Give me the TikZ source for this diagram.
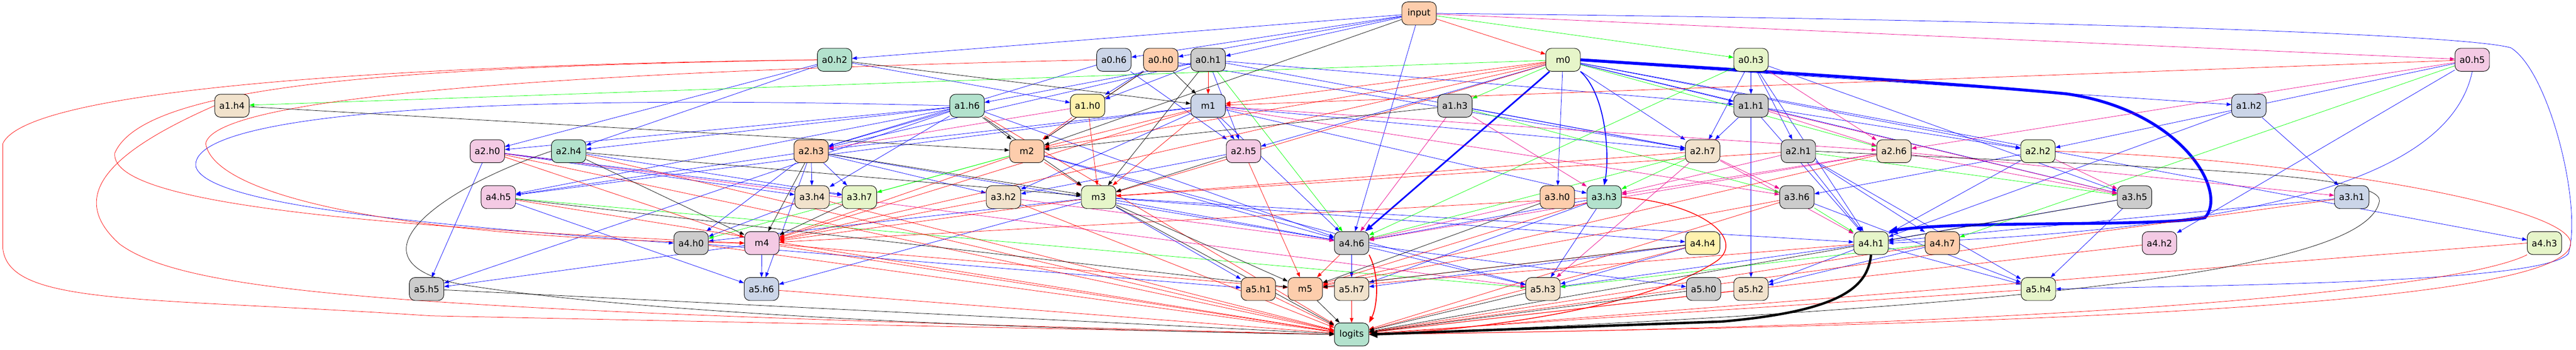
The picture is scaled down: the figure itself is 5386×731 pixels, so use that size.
\documentclass[tikz,border=0pt]{standalone}
\usepackage{fontspec}
\setsansfont{DejaVu Sans}
\usetikzlibrary{arrows.meta}
\definecolor{pmint}{HTML}{B3E2CD}
\definecolor{ppeach}{HTML}{FDCDAC}
\definecolor{pblue}{HTML}{CBD5E8}
\definecolor{ppink}{HTML}{F4CAE4}
\definecolor{pgreen}{HTML}{E6F5C9}
\definecolor{pyellow}{HTML}{FFF2AE}
\definecolor{pbeige}{HTML}{F1E2CC}
\definecolor{pgray}{HTML}{CCCCCC}
\pgfdeclarelayer{edges}
\pgfsetlayers{edges,main}
\begin{document}
\begin{tikzpicture}[x=0.75pt,y=-0.75pt,font=\sffamily\fontsize{14}{16}\selectfont,
    box/.style={draw,rounded corners=9pt,minimum width=54pt,minimum height=36pt,inner sep=0pt,line width=0.75pt},
    tip/.style={-{Triangle[length=7.5pt,width=5.5pt]}},
    qe/.style={tip,blue,line width=0.6pt},
    ke/.style={tip,green,line width=0.6pt},
    ve/.style={tip,magenta,line width=0.6pt},
    re/.style={tip,red,line width=0.6pt},
    oe/.style={tip,black,line width=0.6pt}]
    \useasboundingbox (0,0) rectangle (5386,731);

    \node[box,fill=ppeach] (inp) at (2967,28){input};

    \node[box,fill=pmint] (a0h2) at (1745,125){a0.h2};
    \node[box,fill=pblue] (a0h6) at (2329,125){a0.h6};
    \node[box,fill=ppeach] (a0h0) at (2427,125){a0.h0};
    \node[box,fill=pgray] (a0h1) at (2526,125){a0.h1};
    \node[box,fill=pgreen] (m0) at (3268,125){m0};
    \node[box,fill=pgreen] (a0h3) at (3661,125){a0.h3};
    \node[box,fill=ppink] (a0h5) at (5169,125){a0.h5};

    \node[box,fill=pbeige] (a1h4) at (485,221){a1.h4};
    \node[box,fill=pmint] (a1h6) at (2022,221){a1.h6};
    \node[box,fill=pyellow] (a1h0) at (2274,221){a1.h0};
    \node[box,fill=pblue] (m1) at (2526,221){m1};
    \node[box,fill=pgray] (a1h3) at (3042,221){a1.h3};
    \node[box,fill=pgray] (a1h1) at (3661,221){a1.h1};
    \node[box,fill=pblue] (a1h2) at (4702,221){a1.h2};

    \node[box,fill=ppink] (a2h0) at (1019,316){a2.h0};
    \node[box,fill=pmint] (a2h4) at (1189,316){a2.h4};
    \node[box,fill=ppeach] (a2h3) at (1696,316){a2.h3};
    \node[box,fill=ppeach] (m2) at (2147,316){m2};
    \node[box,fill=ppink] (a2h5) at (2600,316){a2.h5};
    \node[box,fill=pbeige] (a2h7) at (3560,316){a2.h7};
    \node[box,fill=pgray] (a2h1) at (3760,316){a2.h1};
    \node[box,fill=pbeige] (a2h6) at (3960,316){a2.h6};
    \node[box,fill=pgreen] (a2h2) at (4261,316){a2.h2};

    \node[box,fill=ppink] (a4h5) at (1042,412){a4.h5};
    \node[box,fill=pbeige] (a3h4) at (1698,412){a3.h4};
    \node[box,fill=pgreen] (a3h7) at (1797,412){a3.h7};
    \node[box,fill=pbeige] (a3h2) at (2098,412){a3.h2};
    \node[box,fill=pgreen] (m3) at (2297,412){m3};
    \node[box,fill=ppeach] (a3h0) at (3256,412){a3.h0};
    \node[box,fill=pmint] (a3h3) at (3354,412){a3.h3};
    \node[box,fill=pgray] (a3h6) at (3757,412){a3.h6};
    \node[box,fill=pgray] (a3h5) at (4463,412){a3.h5};
    \node[box,fill=pblue] (a3h1) at (4917,412){a3.h1};

    \node[box,fill=pgray] (a4h0) at (1445,508){a4.h0};
    \node[box,fill=ppink] (m4) at (1593,508){m4};
    \node[box,fill=pgray] (a4h6) at (2826,508){a4.h6};
    \node[box,fill=pyellow] (a4h4) at (3560,508){a4.h4};
    \node[box,fill=pgreen] (a4h1) at (3912,508){a4.h1};
    \node[box,fill=ppeach] (a4h7) at (4061,508){a4.h7};
    \node[box,fill=ppink] (a4h2) at (4515,508){a4.h2};
    \node[box,fill=pgreen] (a4h3) at (5320,508){a4.h3};

    \node[box,fill=pgray] (a5h5) at (892,604){a5.h5};
    \node[box,fill=pblue] (a5h6) at (1592,604){a5.h6};
    \node[box,fill=ppeach] (a5h1) at (2631,604){a5.h1};
    \node[box,fill=ppeach] (m5) at (2729,604){m5};
    \node[box,fill=pbeige] (a5h7) at (2826,604){a5.h7};
    \node[box,fill=pbeige] (a5h3) at (3226,604){a5.h3};
    \node[box,fill=pgray] (a5h0) at (3562,604){a5.h0};
    \node[box,fill=pbeige] (a5h2) at (3661,604){a5.h2};
    \node[box,fill=pgreen] (a5h4) at (4262,604){a5.h4};

    \node[box,fill=pmint] (logits) at (2826,699){logits};

    \begin{pgfonlayer}{edges}
    \fill[white] (0,0) rectangle (5386,731);

    \draw[qe] (inp) -- (a0h2);
    \draw[qe] (inp) -- (a0h6);
    \draw[qe] (inp) -- (a0h0);
    \draw[qe] (inp) -- (a0h1);
    \draw[qe] (inp) -- (a4h6);
    \draw[qe] (a0h1) -- (a1h6);
    \draw[qe] (a0h0) -- (a1h0);
    \draw[qe] (a0h1) -- (a1h0);
    \draw[qe] (a0h2) -- (a1h0);
    \draw[qe] (a0h3) -- (a1h1);
    \draw[qe] (m0) -- (a1h1);
    \draw[qe] (a0h1) -- (a1h1);
    \draw[qe] (m0) -- (a1h2);
    \draw[qe] (a0h2) -- (a2h0);
    \draw[qe] (a1h6) -- (a2h0);
    \draw[qe] (a0h2) -- (a2h4);
    \draw[qe] (a1h6) -- (a2h4);
    \draw[qe] (a1h6) -- (a2h3);
    \draw[qe] (a0h1) -- (a2h3);
    \draw[qe] (m1) -- (a2h3);
    \draw[qe] (a0h6) -- (a2h3);
    \draw[qe] (a0h6) -- (a2h5);
    \draw[qe] (m1) -- (a2h5);
    \draw[qe] (a0h1) -- (a2h5);
    \draw[qe] (m0) -- (a2h5);
    \draw[qe] (m0) -- (a2h7);
    \draw[qe] (a0h1) -- (a2h7);
    \draw[qe] (a0h0) -- (a2h7);
    \draw[qe] (a0h3) -- (a2h7);
    \draw[qe] (a1h1) -- (a2h7);
    \draw[qe] (m1) -- (a2h7);
    \draw[qe] (a1h3) -- (a2h7);
    \draw[qe] (a0h3) -- (a2h1);
    \draw[qe] (a1h1) -- (a2h2);
    \draw[qe] (m0) -- (a2h2);
    \draw[qe] (a0h5) -- (a2h2);
    \draw[qe] (a2h3) -- (a4h5);
    \draw[qe] (a1h6) -- (a4h5);
    \draw[qe] (m1) -- (a4h5);
    \draw[qe] (a2h3) -- (a3h4);
    \draw[qe] (a1h6) -- (a3h4);
    \draw[qe] (a2h0) -- (a3h4);
    \draw[qe] (a2h3) -- (a3h7);
    \draw[qe] (a2h4) -- (a3h7);
    \draw[qe] (a2h0) -- (a3h7);
    \draw[qe] (a2h3) -- (a3h2);
    \draw[qe] (m1) -- (a3h2);
    \draw[qe] (a2h5) -- (a3h2);
    \draw[qe] (m0) -- (a3h0);
    \draw[qe] (m1) -- (a3h3);
    \draw[qe] (a2h2) -- (a3h6);
    \draw[qe] (m0) -- (a3h5);
    \draw[qe] (a0h3) -- (a3h5);
    \draw[qe] (a1h2) -- (a3h1);
    \draw[qe] (a2h3) -- (a4h0);
    \draw[qe] (a3h4) -- (a4h0);
    \draw[qe] (m3) -- (a4h0);
    \draw[qe] (a1h6) -- (a4h6);
    \draw[qe] (a3h3) -- (a4h6);
    \draw[qe] (m3) -- (a4h6);
    \draw[qe] (m2) -- (a4h6);
    \draw[qe] (m1) -- (a4h6);
    \draw[qe] (a2h3) -- (a4h6);
    \draw[qe] (m3) -- (a4h4);
    \draw[qe] (a1h1) -- (a4h1);
    \draw[qe] (a2h1) -- (a4h1);
    \draw[qe] (a0h3) -- (a4h1);
    \draw[qe] (m3) -- (a4h1);
    \draw[qe] (a3h5) -- (a4h1);
    \draw[qe] (a3h1) -- (a4h1);
    \draw[qe] (a1h2) -- (a4h1);
    \draw[qe] (a2h2) -- (a4h1);
    \draw[qe] (a2h1) -- (a4h7);
    \draw[qe] (a0h5) -- (a4h2);
    \draw[qe] (m0) -- (a4h3);
    \draw[qe] (a1h6) -- (a5h5);
    \draw[qe] (a2h0) -- (a5h5);
    \draw[qe] (m4) -- (a5h5);
    \draw[qe] (a2h3) -- (a5h6);
    \draw[qe] (m4) -- (a5h6);
    \draw[qe] (a4h5) -- (a5h6);
    \draw[qe] (m3) -- (a5h6);
    \draw[qe] (m3) -- (a5h1);
    \draw[qe] (a4h0) -- (a5h1);
    \draw[qe] (a4h6) -- (a5h7);
    \draw[qe] (a3h3) -- (a5h7);
    \draw[qe] (a4h4) -- (a5h7);
    \draw[qe] (m2) -- (a5h3);
    \draw[qe] (a4h6) -- (a5h3);
    \draw[qe] (a3h3) -- (a5h3);
    \draw[qe] (a4h4) -- (a5h3);
    \draw[qe] (a4h1) -- (a5h3);
    \draw[qe] (a4h6) -- (a5h0);
    \draw[qe] (a4h1) -- (a5h2);
    \draw[qe] (a4h7) -- (a5h2);
    \draw[qe] (a1h1) -- (a5h2);
    \draw[qe] (a4h1) -- (a5h4);
    \draw[qe] (a2h1) -- (a5h4);
    \draw[qe] (a3h6) -- (a5h4);
    \draw[qe] (a3h5) -- (a5h4);
    \draw[qe] (inp.east) .. controls (4200,40) and (5150,70) .. (5250,100) .. controls (5330,150) and (5400,430) .. (5370,530) .. controls (5320,590) and (4700,595) .. (a5h4.east);
    \draw[qe] (a1h6.west) .. controls (800,190) and (390,260) .. (410,350) .. controls (440,430) and (900,470) .. (a4h0.west);
    \draw[qe] (a0h5.south) .. controls (5120,380) and (4700,480) .. (a4h1.east);
    \draw[qe,line width=2.5pt,-{Triangle[length=12pt,width=9pt]}] (m0) -- (a4h6);
    \draw[qe,line width=1.5pt,-{Triangle[length=10pt,width=7pt]}] (m0.south east) .. controls (3360,200) and (3365,330) .. (a3h3.north);
    \draw[qe,line width=4.5pt,-{Triangle[length=14pt,width=12pt]}] (m0.east) .. controls (3700,150) and (4100,175) .. (4320,196) .. controls (4560,230) and (4660,400) .. (4610,455) .. controls (4500,475) and (4100,460) .. (a4h1.north east);

    \draw[ke] (inp) -- (a0h3);
    \draw[ke] (m0) -- (a1h4);
    \draw[ke] (m0) -- (a1h3);
    \draw[ke] (m0) -- (a2h6);
    \draw[ke] (m2) -- (a3h7);
    \draw[ke] (a2h7) -- (a3h3);
    \draw[ke] (a2h1) -- (a3h5);
    \draw[ke] (a1h3) -- (a3h6);
    \draw[ke] (m2) -- (a4h0);
    \draw[ke] (a0h1) -- (a4h6);
    \draw[ke] (a2h7) -- (a4h6);
    \draw[ke] (a0h3) -- (a4h6);
    \draw[ke] (a3h6) -- (a4h1);
    \draw[ke] (a0h5) -- (a4h7);
    \draw[ke] (a4h5) -- (a5h3);
    \draw[ke] (a4h7) -- (a5h3);

    \draw[ve] (inp) -- (a0h5);
    \draw[ve] (a1h0) -- (a2h3);
    \draw[ve] (a0h3) -- (a2h6);
    \draw[ve] (a1h1) -- (a2h6);
    \draw[ve] (m1) -- (a2h6);
    \draw[ve] (a0h5) -- (a2h6);
    \draw[ve] (a1h3) -- (a3h3);
    \draw[ve] (a2h6) -- (a3h3);
    \draw[ve] (a2h1) -- (a3h3);
    \draw[ve] (a2h7) -- (a3h6);
    \draw[ve] (m1) -- (a3h6);
    \draw[ve] (a1h1) -- (a3h5);
    \draw[ve] (a2h6) -- (a3h5);
    \draw[ve] (a2h2) -- (a3h5);
    \draw[ve] (a2h6) -- (a3h1);
    \draw[ve] (a1h3) -- (a4h6);
    \draw[ve] (a3h0) -- (a4h6);
    \draw[ve] (a2h6) -- (a4h6);
    \draw[ve] (a3h2) -- (a4h6);
    \draw[ve] (a2h7) -- (a4h1);
    \draw[ve] (a2h7) -- (a5h3);
    \draw[ve] (a2h0) -- (a5h3);

    \draw[re] (inp) -- (m0);
    \draw[re] (a0h1) -- (m1);
    \draw[re] (m0) -- (m1);
    \draw[re] (a0h5) -- (m1);
    \draw[re] (a0h0) -- (m2);
    \draw[re] (a1h0) -- (m2);
    \draw[re] (m1) -- (m2);
    \draw[re] (m0) -- (m2);
    \draw[re] (m2) -- (m3);
    \draw[re] (a1h0) -- (m3);
    \draw[re] (m1) -- (m3);
    \draw[re] (m0) -- (m3);
    \draw[re] (a2h7) -- (m3);
    \draw[re] (a2h1) -- (m3);
    \draw[re] (a2h0) -- (m4);
    \draw[re] (m3) -- (m4);
    \draw[re] (m2) -- (m4);
    \draw[re] (m1) -- (m4);
    \draw[re] (m0) -- (m4);
    \draw[re] (a3h2) -- (m4);
    \draw[re] (a3h3) -- (m4);
    \draw[re] (a4h6) -- (m5);
    \draw[re] (a3h3) -- (m5);
    \draw[re] (a4h4) -- (m5);
    \draw[re] (a3h6) -- (m5);
    \draw[re] (a4h1) -- (m5);
    \draw[re] (m4) -- (m5);
    \draw[re] (a2h6) -- (m5);
    \draw[re] (a2h5) -- (m5);
    \draw[re] (a2h0) -- (logits);
    \draw[re] (a2h4) -- (logits);
    \draw[re] (a4h5) -- (logits);
    \draw[re] (a4h0) -- (logits);
    \draw[re] (a5h6) -- (logits);
    \draw[re] (m4) -- (logits);
    \draw[re] (a5h1) -- (logits);
    \draw[re] (a5h7) -- (logits);
    \draw[re] (a4h4) -- (logits);
    \draw[re] (a4h7) -- (logits);
    \draw[re] (a3h6) -- (logits);
    \draw[re] (a4h2) -- (logits);
    \draw[re] (a3h1) -- (logits);
    \draw[re] (a5h4) -- (logits);
    \draw[re] (a5h2) -- (logits);
    \draw[re] (a1h6) -- (logits);
    \draw[re] (a3h2) -- (logits);
    \draw[re] (a3h4) -- (logits);
    \draw[re] (a0h2.west) .. controls (900,135) and (60,180) .. (6,300) -- (6,520) .. controls (20,640) and (300,620) .. (900,660) -- (logits.west);
    \draw[re] (a0h2.west) .. controls (800,140) and (300,180) .. (240,320) .. controls (230,420) and (700,470) .. (m4.west);
    \draw[re] (a0h6.west) .. controls (1200,150) and (450,200) .. (430,300) .. controls (450,420) and (900,500) .. (m4.west);
    \draw[re] (a1h4.west) .. controls (200,330) and (150,420) .. (250,510) .. controls (400,620) and (900,650) .. (logits.west);
    \draw[re] (a2h2.east) .. controls (4800,330) and (5380,430) .. (5375,510) .. controls (5360,640) and (4200,680) .. (logits.east);
    \draw[re] (a4h3.south west) .. controls (5150,600) and (4400,680) .. (logits.east);
    \draw[re] (a4h3.west) -- (logits.east);
    \draw[re,line width=1.5pt,-{Triangle[length=10pt,width=7pt]}] (a4h6.south east) .. controls (2885,575) and (2880,640) .. (logits.north east);
    \draw[re,line width=1.2pt,-{Triangle[length=9pt,width=6.5pt]}] (a3h3.east) .. controls (3560,425) and (3650,500) .. (3590,545) .. controls (3450,640) and (3100,690) .. (logits.east);

    \draw[oe] (inp) -- (m2);
    \draw[oe] (a0h0) -- (m1);
    \draw[oe] (a0h2) -- (m1);
    \draw[oe] (a1h6) -- (m2);
    \draw[oe] (a0h0) -- (m2);
    \draw[oe] (a1h4) -- (m2);
    \draw[oe] (a1h3) -- (m2);
    \draw[oe] (a1h6) -- (m3);
    \draw[oe] (a2h4) -- (m3);
    \draw[oe] (a0h1) -- (m3);
    \draw[oe] (a2h5) -- (m3);
    \draw[oe] (a2h3) -- (m3);
    \draw[oe] (a2h4) -- (m4);
    \draw[oe] (a2h3) -- (m4);
    \draw[oe] (a3h7) -- (m4);
    \draw[oe] (m3) -- (m5);
    \draw[oe] (a3h0) -- (m5);
    \draw[oe] (a4h4) -- (m5);
    \draw[oe] (a4h5) -- (m5);
    \draw[oe] (m5) -- (logits);
    \draw[oe] (a5h3) -- (logits);
    \draw[oe] (a5h0) -- (logits);
    \draw[oe] (a3h5) -- (logits);
    \draw[oe] (a5h5) -- (logits);
    \draw[oe] (m3) -- (logits);
    \draw[oe] (a2h1.east) .. controls (4500,350) and (4980,360) .. (4975,420) .. controls (4950,560) and (4300,640) .. (logits.east);
    \draw[oe] (a2h4.west) .. controls (900,400) and (700,560) .. (1000,600) .. controls (1400,660) and (2200,690) .. (logits.west);
    \draw[oe,line width=3.75pt,-{Triangle[length=13pt,width=11pt]}] (a4h1.south) .. controls (3905,600) and (3850,650) .. (3600,672) -- (logits.east);
    \end{pgfonlayer}
\end{tikzpicture}
\end{document}
